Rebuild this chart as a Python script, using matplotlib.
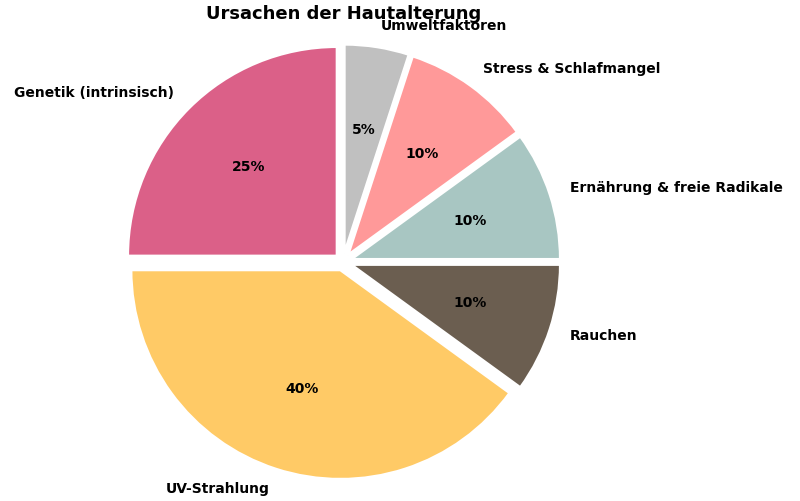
import matplotlib.pyplot as plt

labels = ["Genetik (intrinsisch)", "UV-Strahlung", "Rauchen",
          "Ernährung & freie Radikale", "Stress & Schlafmangel", "Umweltfaktoren"]
values = [25, 40, 10, 10, 10, 5]
colors = ["#DB6088", "#FFCA66", "#6B5E50", "#A8C6C2", "#FF9999", "#C0C0C0"]
explode = [0.04, 0.04, 0.04, 0.04, 0.04, 0.04]

fig, ax = plt.subplots(figsize=(8, 5.01), dpi=100)
ax.pie(values, labels=labels, colors=colors, explode=explode, startangle=90,
       autopct='%1.0f%%', pctdistance=0.6, labeldistance=1.1,
       wedgeprops=dict(edgecolor='white', linewidth=2),
       textprops=dict(fontsize=10, fontweight='bold'))
ax.set_title("Ursachen der Hautalterung", fontsize=13, fontweight='bold', pad=0)
ax.axis('equal')
plt.subplots_adjust(left=0.1, right=0.76, top=0.955, bottom=0.0)
plt.savefig('out.png')
